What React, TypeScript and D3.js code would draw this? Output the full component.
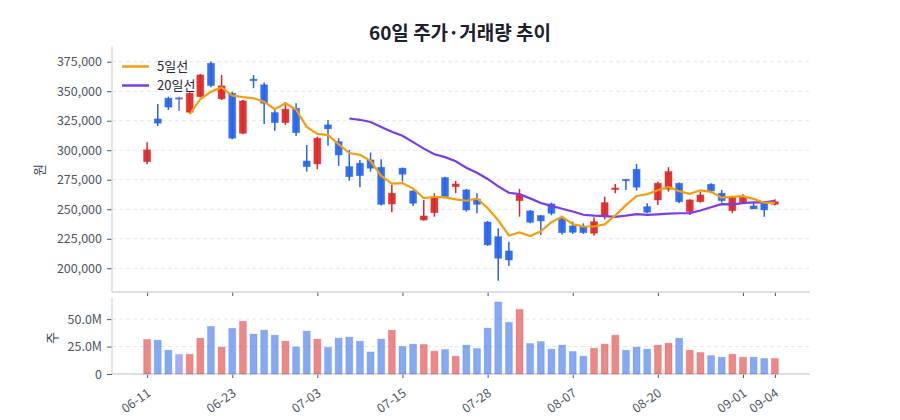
import React, { useEffect, useRef } from 'react';
import * as d3 from 'd3';

// 거래일 (MM-DD)
const dates = [
  '06-11', '06-12', '06-13', '06-16', '06-17', '06-18', '06-19', '06-20', '06-23', '06-24',
  '06-25', '06-26', '06-27', '06-30', '07-01', '07-02', '07-03', '07-04', '07-07', '07-08',
  '07-09', '07-10', '07-11', '07-14', '07-15', '07-16', '07-18', '07-21', '07-22', '07-23',
  '07-24', '07-25', '07-28', '07-29', '07-30', '07-31', '08-01', '08-04', '08-05', '08-06',
  '08-07', '08-08', '08-11', '08-12', '08-13', '08-14', '08-18', '08-19', '08-20', '08-21',
  '08-22', '08-25', '08-26', '08-27', '08-28', '08-29', '09-01', '09-02', '09-03', '09-04',
];

const opens = [
  290300, 326500, 344100, 344500, 332200, 345400, 373700, 343500, 348300, 314400,
  360200, 355400, 331900, 323400, 335600, 290900, 288400, 321500, 307300, 286100,
  289000, 291800, 285600, 254500, 284800, 265500, 240900, 247100, 276800, 269200,
  266400, 258500, 239200, 226800, 214700, 257300, 248600, 244600, 254500, 242400,
  235900, 235300, 229700, 244300, 267000, 275400, 283900, 252200, 257900, 267000,
  272000, 248000, 256400, 271200, 263600, 248800, 255600, 252800, 255100, 254200,
];
const highs = [
  306800, 339200, 345400, 345400, 349000, 364500, 375100, 363800, 349500, 342500,
  363600, 357300, 334200, 340700, 339800, 304500, 311500, 325700, 310200, 300300,
  291800, 298000, 292400, 270600, 285300, 266000, 257900, 263600, 277500, 274000,
  267200, 263600, 240100, 233900, 222500, 267200, 249400, 245200, 255600, 244300,
  239500, 238100, 243200, 260700, 271400, 275400, 288400, 255100, 273400, 285600,
  272600, 258500, 264900, 272000, 266400, 261300, 262700, 255600, 255600, 258500,
];
const lows = [
  288100, 320600, 334200, 333300, 331000, 344800, 353400, 342600, 309200, 313500,
  352500, 322300, 316600, 321500, 312100, 281900, 283900, 303900, 286700, 274200,
  268700, 281900, 253100, 247500, 273400, 252800, 240300, 243700, 260000, 263600,
  248000, 246600, 218900, 189500, 202000, 243700, 238100, 228200, 244900, 228700,
  229100, 229100, 227600, 241500, 263600, 266400, 265800, 246600, 253700, 264900,
  255000, 245200, 255600, 263600, 255600, 246600, 254500, 250300, 243700, 253100,
];
const closes = [
  300300, 322900, 336500, 344500, 348300, 363800, 354800, 354500, 310200, 341800,
  359000, 339800, 323400, 334800, 314900, 286100, 310200, 318100, 296000, 277600,
  278500, 284800, 254200, 263600, 279700, 255100, 244300, 260200, 260700, 271400,
  249400, 254200, 219800, 208500, 207000, 262100, 239000, 240100, 246600, 230200,
  230500, 230200, 239500, 255600, 268000, 274200, 268700, 247500, 272000, 281900,
  256400, 257900, 262100, 265500, 257300, 260200, 260700, 250300, 249400, 256400,
];
// 거래량 (백만 주)
const volumes = [
  31.5, 30.9, 21.7, 17.8, 18.0, 32.7, 43.4, 24.5, 41.6, 48.0,
  36.4, 40.0, 35.4, 29.9, 24.7, 39.1, 31.8, 24.2, 32.7, 33.6,
  29.9, 20.1, 31.8, 40.0, 25.1, 27.2, 26.9, 20.8, 22.3, 16.2,
  26.3, 23.2, 41.8, 65.7, 47.1, 58.9, 27.8, 29.6, 22.6, 26.3,
  20.5, 16.2, 23.5, 27.2, 35.4, 21.7, 24.5, 22.6, 26.3, 28.1,
  32.7, 21.7, 19.6, 16.8, 15.3, 18.0, 15.3, 15.3, 14.1, 14.1,
];

const tickDates = ['06-11', '06-23', '07-03', '07-15', '07-28', '08-07', '08-20', '09-01', '09-04'];
const priceTicks = [200000, 225000, 250000, 275000, 300000, 325000, 350000, 375000];
const volumeTicks = [0, 25, 50];

const UP = '#dc2626';
const DOWN = '#2563eb';
const FLAT = '#6366f1';
const MA5 = '#f59e0b';
const MA20 = '#7c3aed';
const FONT = '"Noto Sans CJK KR", "Noto Sans", sans-serif';

const App: React.FC = () => {
  const ref = useRef<SVGSVGElement>(null);

  useEffect(() => {
    if (!ref.current) return;
    const svg = d3.select(ref.current);
    svg.selectAll('*').remove();

    const left = 112;
    const right = 810;
    const priceTop = 46;
    const priceBottom = 292;
    const volTop = 298;
    const volBottom = 374;

    const idx = d3.range(dates.length);
    const x = d3.scaleLinear().domain([-3.3, 62.3]).range([left, right]);
    const y = d3.scaleLinear().domain([179900, 388300]).range([priceBottom, priceTop]);
    const yv = d3.scaleLinear().domain([0, 69.3]).range([volBottom, volTop]);

    const colorOf = (i: number) =>
      closes[i] > opens[i] ? UP : closes[i] < opens[i] ? DOWN : FLAT;

    // 제목
    svg.append('text')
      .attr('x', 460)
      .attr('y', 40)
      .attr('text-anchor', 'middle')
      .attr('font-size', 19)
      .attr('font-weight', 700)
      .attr('fill', '#1a202c')
      .text('60일 주가·거래량 추이');

    // 격자선
    const grid = svg.append('g');
    priceTicks.forEach(t => {
      grid.append('line')
        .attr('x1', left).attr('x2', right)
        .attr('y1', y(t)).attr('y2', y(t))
        .attr('stroke', '#e5e7eb').attr('stroke-dasharray', '4,3');
    });
    volumeTicks.filter(t => t > 0).forEach(t => {
      grid.append('line')
        .attr('x1', left).attr('x2', right)
        .attr('y1', yv(t)).attr('y2', yv(t))
        .attr('stroke', '#e5e7eb').attr('stroke-dasharray', '4,3');
    });

    // 축
    const axisG = svg.append('g').attr('font-family', FONT);
    const yAxis = axisG.append('g')
      .attr('transform', `translate(${left},0)`)
      .call(d3.axisLeft(y).tickValues(priceTicks).tickFormat(d3.format(',') as any).tickSize(5).tickPadding(5));
    const vAxis = axisG.append('g')
      .attr('transform', `translate(${left},0)`)
      .call(d3.axisLeft(yv).tickValues(volumeTicks)
        .tickFormat((d: any) => (d === 0 ? '0' : `${(+d).toFixed(1)}M`))
        .tickSize(5).tickPadding(5));
    const tickIdx = tickDates.map(d => dates.indexOf(d));
    const xTop = axisG.append('g')
      .attr('transform', `translate(0,${priceBottom})`)
      .call(d3.axisBottom(x).tickValues(tickIdx).tickFormat(() => '').tickSize(4).tickSizeOuter(0));
    const xBottom = axisG.append('g')
      .attr('transform', `translate(0,${volBottom})`)
      .call(d3.axisBottom(x).tickValues(tickIdx).tickFormat((d: any) => dates[d]).tickSize(4).tickSizeOuter(0));

    [yAxis, vAxis, xTop, xBottom].forEach(g => {
      g.select('.domain').remove();
      g.selectAll('.tick line').attr('stroke', '#4b5563');
      g.selectAll('.tick text').attr('fill', '#4b5563').attr('font-size', 12.5).attr('font-family', FONT);
    });
    xBottom.selectAll('.tick text')
      .attr('text-anchor', 'end')
      .attr('transform', 'translate(-5,8) rotate(-35)');

    // 축선
    const axisColor = '#d1d5db';
    svg.append('line').attr('x1', left).attr('x2', left).attr('y1', priceTop).attr('y2', priceBottom)
      .attr('stroke', axisColor).attr('stroke-width', 1.2);
    svg.append('line').attr('x1', left).attr('x2', right).attr('y1', priceBottom).attr('y2', priceBottom)
      .attr('stroke', axisColor).attr('stroke-width', 1.5);
    svg.append('line').attr('x1', left).attr('x2', left).attr('y1', volTop).attr('y2', volBottom)
      .attr('stroke', axisColor).attr('stroke-width', 1.2);
    svg.append('line').attr('x1', left).attr('x2', right).attr('y1', volBottom).attr('y2', volBottom)
      .attr('stroke', axisColor).attr('stroke-width', 1.5);

    // 축 제목
    svg.append('text')
      .attr('transform', `translate(44,170) rotate(-90)`)
      .attr('text-anchor', 'middle')
      .attr('font-size', 13)
      .attr('fill', '#374151')
      .attr('font-family', FONT)
      .text('원');
    svg.append('text')
      .attr('transform', `translate(57,338) rotate(-90)`)
      .attr('text-anchor', 'middle')
      .attr('font-size', 13)
      .attr('fill', '#374151')
      .attr('font-family', FONT)
      .text('주');

    // 거래량 막대
    const barW = 7;
    svg.append('g')
      .selectAll('rect')
      .data(idx)
      .enter()
      .append('rect')
      .attr('x', i => x(i) - barW / 2)
      .attr('y', i => yv(volumes[i]))
      .attr('width', barW)
      .attr('height', i => yv(0) - yv(volumes[i]))
      .attr('fill', i => colorOf(i))
      .attr('fill-opacity', 0.55)
      .attr('stroke', i => colorOf(i))
      .attr('stroke-opacity', 0.2);

    // 캔들
    const candles = svg.append('g')
      .selectAll('g')
      .data(idx)
      .enter()
      .append('g');
    candles.append('line')
      .attr('x1', i => x(i)).attr('x2', i => x(i))
      .attr('y1', i => y(highs[i])).attr('y2', i => y(lows[i]))
      .attr('stroke', i => colorOf(i))
      .attr('stroke-width', 1.5);
    candles.append('rect')
      .attr('x', i => x(i) - barW / 2)
      .attr('y', i => y(Math.max(opens[i], closes[i])))
      .attr('width', barW)
      .attr('height', i => Math.max(1.5, Math.abs(y(opens[i]) - y(closes[i]))))
      .attr('fill', i => colorOf(i))
      .attr('fill-opacity', 0.92)
      .attr('stroke', i => colorOf(i))
      .attr('stroke-opacity', 0.5)
      .attr('stroke-width', 0.8);

    // 이동평균선
    const movingAvg = (n: number) =>
      idx.map(i => (i < n - 1 ? null : d3.mean(closes.slice(i - n + 1, i + 1)) as number));
    const line = d3.line<number | null>()
      .defined(d => d !== null)
      .x((_d, i) => x(i))
      .y(d => y(d as number))
      .curve(d3.curveLinear);
    svg.append('path')
      .datum(movingAvg(20))
      .attr('d', line)
      .attr('fill', 'none')
      .attr('stroke', MA20)
      .attr('stroke-width', 2.2);
    svg.append('path')
      .datum(movingAvg(5))
      .attr('d', line)
      .attr('fill', 'none')
      .attr('stroke', MA5)
      .attr('stroke-width', 2.2);

    // 범례
    const legend = svg.append('g').attr('font-family', FONT);
    [{ label: '5일선', color: MA5 }, { label: '20일선', color: MA20 }].forEach((item, k) => {
      const ly = 66.5 + k * 19;
      legend.append('line')
        .attr('x1', 122).attr('x2', 149)
        .attr('y1', ly).attr('y2', ly)
        .attr('stroke', item.color).attr('stroke-width', 2.5);
      legend.append('text')
        .attr('x', 157).attr('y', ly)
        .attr('dy', '0.35em')
        .attr('font-size', 13)
        .attr('fill', '#1f2937')
        .text(item.label);
    });
  }, []);

  return (
    <svg
      ref={ref}
      width={900}
      height={420}
      style={{ position: 'absolute', left: 0, top: 0, display: 'block', background: '#fff', fontFamily: FONT }}
    />
  );
};

export default App;
